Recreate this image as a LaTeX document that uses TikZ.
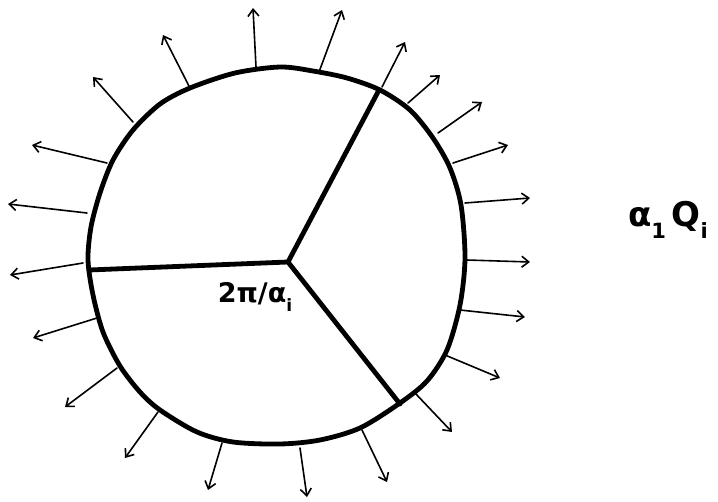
\documentclass[tikz,border=0pt]{standalone}
\usepackage{fontspec}
\newfontfamily\handfont{DejaVu Sans}
\usetikzlibrary{arrows.meta}
\begin{document}
\begin{tikzpicture}[x=1pt,y=-1pt,
  rim/.style={line width=4.8pt, line join=round, line cap=round},
  ray/.style={line width=1.6pt, line cap=round, -{Straight Barb[length=7pt,width=11pt,line width=1.6pt]}},
  lbl/.style={font=\handfont\bfseries, inner sep=0pt}]
\useasboundingbox (0,0) rectangle (718,501);
% rim
\draw[rim] plot[smooth cycle, tension=0.5] coordinates {
 (88,260) (93,295) (103,332) (120,366) (140,392) (160,410) (197,432) (233,442) (280,444)
 (320,440) (360,428) (400,403) (427,381) (447,350) (460,305) (465,258)
 (461,205) (450,168) (433,138) (410,110) (380,90) (347,78) (313,71)
 (280,67) (235,73) (190,88) (160,104) (133,130) (113,160) (100,193) (91,227)};
% spokes
\coordinate (c) at (288,262);
\coordinate (s1) at (89,270);
\coordinate (s2) at (379,90);
\coordinate (s3) at (400,404);
\draw[rim] (s1) -- (c) -- (s2);
\draw[rim] (c) -- (s3);
% arrows
\foreach \ax/\ay/\bx/\by [count=\k] in {
 87/213/8/204, 107/163/32/145, 133/122/93/77, 190/88/163/35, 256/67/253/8,
 319/72/342/10, 382/87/405/42, 408/103/440/75, 438/133/482/102, 453/163/508/145,
 465/203/530/198, 467/260/530/262, 460/310/525/317, 445/355/500/378, 415/393/452/432,
 362/430/387/482, 300/448/307/497, 222/443/208/490, 158/412/125/458, 117/368/65/407,
 97/318/33/338, 83/263/10/275} {
  \coordinate (a\k) at (\ax,\ay);
  \coordinate (b\k) at (\bx,\by);
  \draw[ray] (a\k) -- (b\k);
}
% labels
\node[lbl, font=\handfont\bfseries\fontsize{27}{27}\selectfont] (angle) at (255,297) {2π/α\raisebox{-0.35em}{\fontsize{17}{17}\selectfont i}};
\node[lbl, font=\handfont\bfseries\fontsize{34}{34}\selectfont] (charge) at (668,220) {α\raisebox{-0.35em}{\fontsize{21}{21}\selectfont 1}\,Q\raisebox{-0.35em}{\fontsize{21}{21}\selectfont i}};
\end{tikzpicture}
\end{document}
